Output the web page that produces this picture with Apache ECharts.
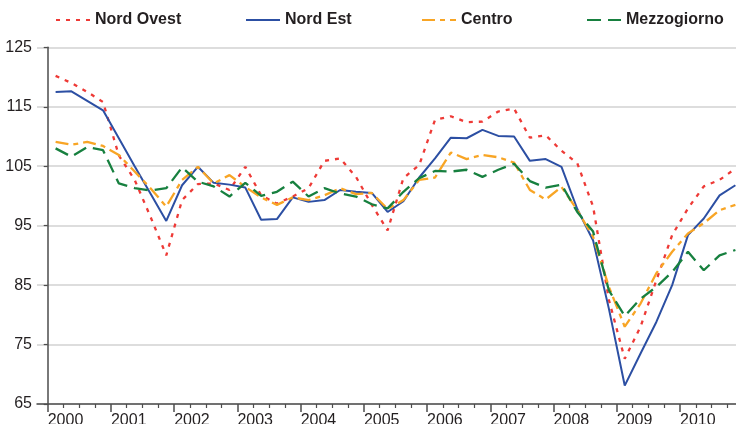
<!DOCTYPE html>
<html>
<head>
<meta charset="utf-8">
<script src="https://cdn.jsdelivr.net/npm/echarts@6/dist/echarts.min.js"></script>
<style>
  html, body { margin: 0; padding: 0; background: #fff; }
  #chart { width: 736px; height: 424px; }
</style>
</head>
<body>
<div id="chart"></div>
<script>
// anni sull'asse x (4 trimestri ciascuno)
const years = ['2000', '2001', '2002', '2003', '2004', '2005', '2006', '2007', '2008', '2009', '2010'];
const yTicks = [65, 75, 85, 95, 105, 115, 125];

// valori trimestrali, 2000 T1 .. 2010 T4
const nordOvest = [120.2, 119.0, 117.5, 115.8, 106.8, 102.7, 96.5, 90.0, 99.3, 102.0, 102.1, 101.0,
  104.9, 100.1, 98.7, 99.9, 101.3, 105.9, 106.3, 103.2, 98.5, 94.2, 103.0, 105.2,
  112.8, 113.4, 112.4, 112.5, 114.2, 114.7, 109.8, 110.2, 107.6, 105.5, 98.2, 82.5,
  72.6, 78.0, 85.8, 93.4, 97.9, 101.6, 102.7, 104.6];
const nordEst = [117.5, 117.6, 116.0, 114.4, 109.7, 105.0, 100.4, 95.8, 101.8, 104.9, 102.2, 101.9,
  101.4, 96.0, 96.1, 99.75, 99.0, 99.3, 101.0, 100.7, 100.5, 97.3, 99.1, 103.1,
  106.3, 109.8, 109.7, 111.1, 110.1, 110.0, 105.9, 106.2, 104.9, 97.8, 92.5, 81.0,
  68.1, 73.5, 78.8, 85.0, 93.4, 96.2, 100.1, 101.8];
const centro = [109.1, 108.6, 109.1, 108.4, 106.9, 104.1, 101.3, 98.2, 102.7, 104.9, 102.1, 103.5,
  101.5, 99.75, 98.5, 99.75, 99.3, 100.1, 101.3, 100.3, 100.5, 97.8, 99.3, 102.7,
  103.1, 107.3, 106.2, 106.9, 106.5, 105.6, 101.0, 99.4, 101.5, 97.6, 93.1, 84.7,
  78.0, 81.9, 87.0, 90.6, 93.7, 95.4, 97.6, 98.5];
const mezzogiorno = [108.0, 106.6, 108.2, 107.7, 102.1, 101.3, 100.9, 101.3, 104.8, 102.4, 101.6, 99.9,
  102.2, 100.0, 100.7, 102.4, 99.9, 101.3, 100.4, 99.9, 98.6, 97.9, 100.7, 103.0,
  104.2, 104.1, 104.4, 103.2, 104.4, 105.4, 102.5, 101.4, 101.9, 97.3, 94.0, 84.1,
  79.8, 82.7, 84.7, 87.2, 90.6, 87.5, 90.0, 90.9];

const textColor = '#231f20';
const font = 'Liberation Sans, Arial, sans-serif';

// ogni trimestre occupa una unità sull'asse x, il punto sta al centro
const toPoints = arr => arr.map((v, i) => [i + 0.5, v]);
const yearTicks = years.map((y, k) => k * 4).concat([years.length * 4]);
const quarterTicks = [];
for (let q = 1; q < years.length * 4; q++) {
  if (q % 4 !== 0) quarterTicks.push(q);
}

const seriesDefs = [
  { name: 'Nord Ovest', data: nordOvest, color: '#ee3a36', type: [4, 6], width: 2.3, legendLeft: 55 },
  { name: 'Nord Est', data: nordEst, color: '#2c4fa3', type: 'solid', width: 2, legendLeft: 245 },
  { name: 'Centro', data: centro, color: '#f8a525', type: [13, 5, 5, 5], width: 2.3, legendLeft: 421 },
  { name: 'Mezzogiorno', data: mezzogiorno, color: '#17803f', type: [14, 7], width: 2.3, legendLeft: 586 }
];

const chart = echarts.init(document.getElementById('chart'));

const option = {
  animation: false,
  backgroundColor: '#fff',
  legend: seriesDefs.map(s => ({
    data: [s.name],
    left: s.legendLeft,
    top: 12,
    padding: 0,
    itemWidth: 34,
    itemHeight: 14,
    itemStyle: { opacity: 0 },
    textStyle: { color: textColor, fontSize: 16, fontWeight: 'bold', fontFamily: font }
  })),
  grid: {
    left: 37,
    top: 47.3,
    right: -7.3,
    bottom: 20,
    outerBoundsMode: 'none',
    containLabel: false
  },
  xAxis: [
    {
      type: 'value',
      min: -0.677,
      max: 44,
      axisLine: { show: true, lineStyle: { color: '#4d4d4d', width: 1.5 } },
      axisTick: { show: true, customValues: yearTicks, length: 8, lineStyle: { color: '#4d4d4d', width: 1.5 } },
      axisLabel: {
        customValues: yearTicks.slice(0, years.length),
        formatter: v => years[Math.round(v / 4)],
        align: 'left',
        margin: 9,
        color: textColor,
        fontSize: 16,
        fontFamily: font
      },
      splitLine: { show: false }
    },
    {
      type: 'value',
      position: 'bottom',
      min: -0.677,
      max: 44,
      axisLine: { show: false },
      axisTick: { show: true, customValues: quarterTicks, length: 4, lineStyle: { color: '#4d4d4d', width: 1.2 } },
      axisLabel: { show: false },
      splitLine: { show: false }
    }
  ],
  yAxis: {
    type: 'value',
    min: yTicks[0],
    max: yTicks[yTicks.length - 1],
    interval: 10,
    axisLine: { show: true, lineStyle: { color: '#4d4d4d', width: 1.5 } },
    axisTick: { show: true, length: 4, lineStyle: { color: '#4d4d4d', width: 1.2 } },
    axisLabel: { margin: 5, color: textColor, fontSize: 16, fontFamily: font },
    splitLine: { show: true, lineStyle: { color: '#d2d2d2', width: 1.5 } }
  },
  series: seriesDefs.map(s => ({
    name: s.name,
    type: 'line',
    xAxisIndex: 0,
    data: toPoints(s.data),
    symbol: 'none',
    color: s.color,
    lineStyle: { color: s.color, width: s.width, type: s.type }
  }))
};

chart.setOption(option);
</script>
</body>
</html>
